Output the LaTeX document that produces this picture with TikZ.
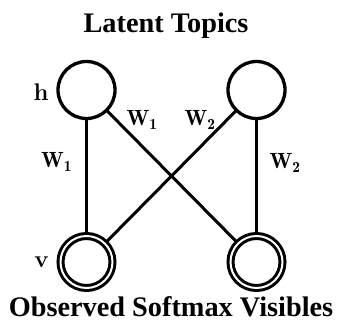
\documentclass[tikz,border=0pt]{standalone}
\usepackage{fontspec}
\newfontfamily\titlefont{Liberation Serif}
\begin{document}
\begin{tikzpicture}[x=1pt,y=1pt,
  hid/.style={circle,draw,line width=3.3pt,minimum size=57pt,inner sep=0pt,outer sep=0pt},
  vis/.style={circle,draw,line width=3pt,double,double distance=2pt,minimum size=52pt,inner sep=0pt,outer sep=2.5pt},
  conn/.style={line width=3pt},
  wlab/.style={inner sep=0pt,font=\fontsize{22}{26}\selectfont},
  nlab/.style={inner sep=0pt,anchor=base,font=\fontsize{24}{28}\selectfont\bfseries},
  ttl/.style={inner sep=0pt,anchor=base,font=\titlefont\fontsize{28.3}{32}\selectfont\bfseries}]
\useasboundingbox (0,0) rectangle (342,330);
\node[ttl] (t1) at (166,297) {Latent Topics};
\node[ttl] (t2) at (171,14) {Observed Softmax Visibles};
\node[hid] (h1) at (86.5,240) {};
\node[hid] (h2) at (256.5,240) {};
\node[vis] (v1) at (86.5,68) {};
\node[vis] (v2) at (256.5,68) {};
\draw[conn] (h1) -- (v1);
\draw[conn] (h2) -- (v2);
\draw[conn] (h1) -- (v2);
\draw[conn] (h2) -- (v1);
\node[nlab] (lh) at (41,230) {h};
\node[nlab] (lv) at (41.5,63) {v};
\node[wlab] (w1a) at (56.5,168) {$\mathbf{W_1}$};
\node[wlab] (w2a) at (285,167) {$\mathbf{W_2}$};
\node[wlab] (w1b) at (142,210) {$\mathbf{W_1}$};
\node[wlab] (w2b) at (200,210) {$\mathbf{W_2}$};
\end{tikzpicture}
\end{document}
